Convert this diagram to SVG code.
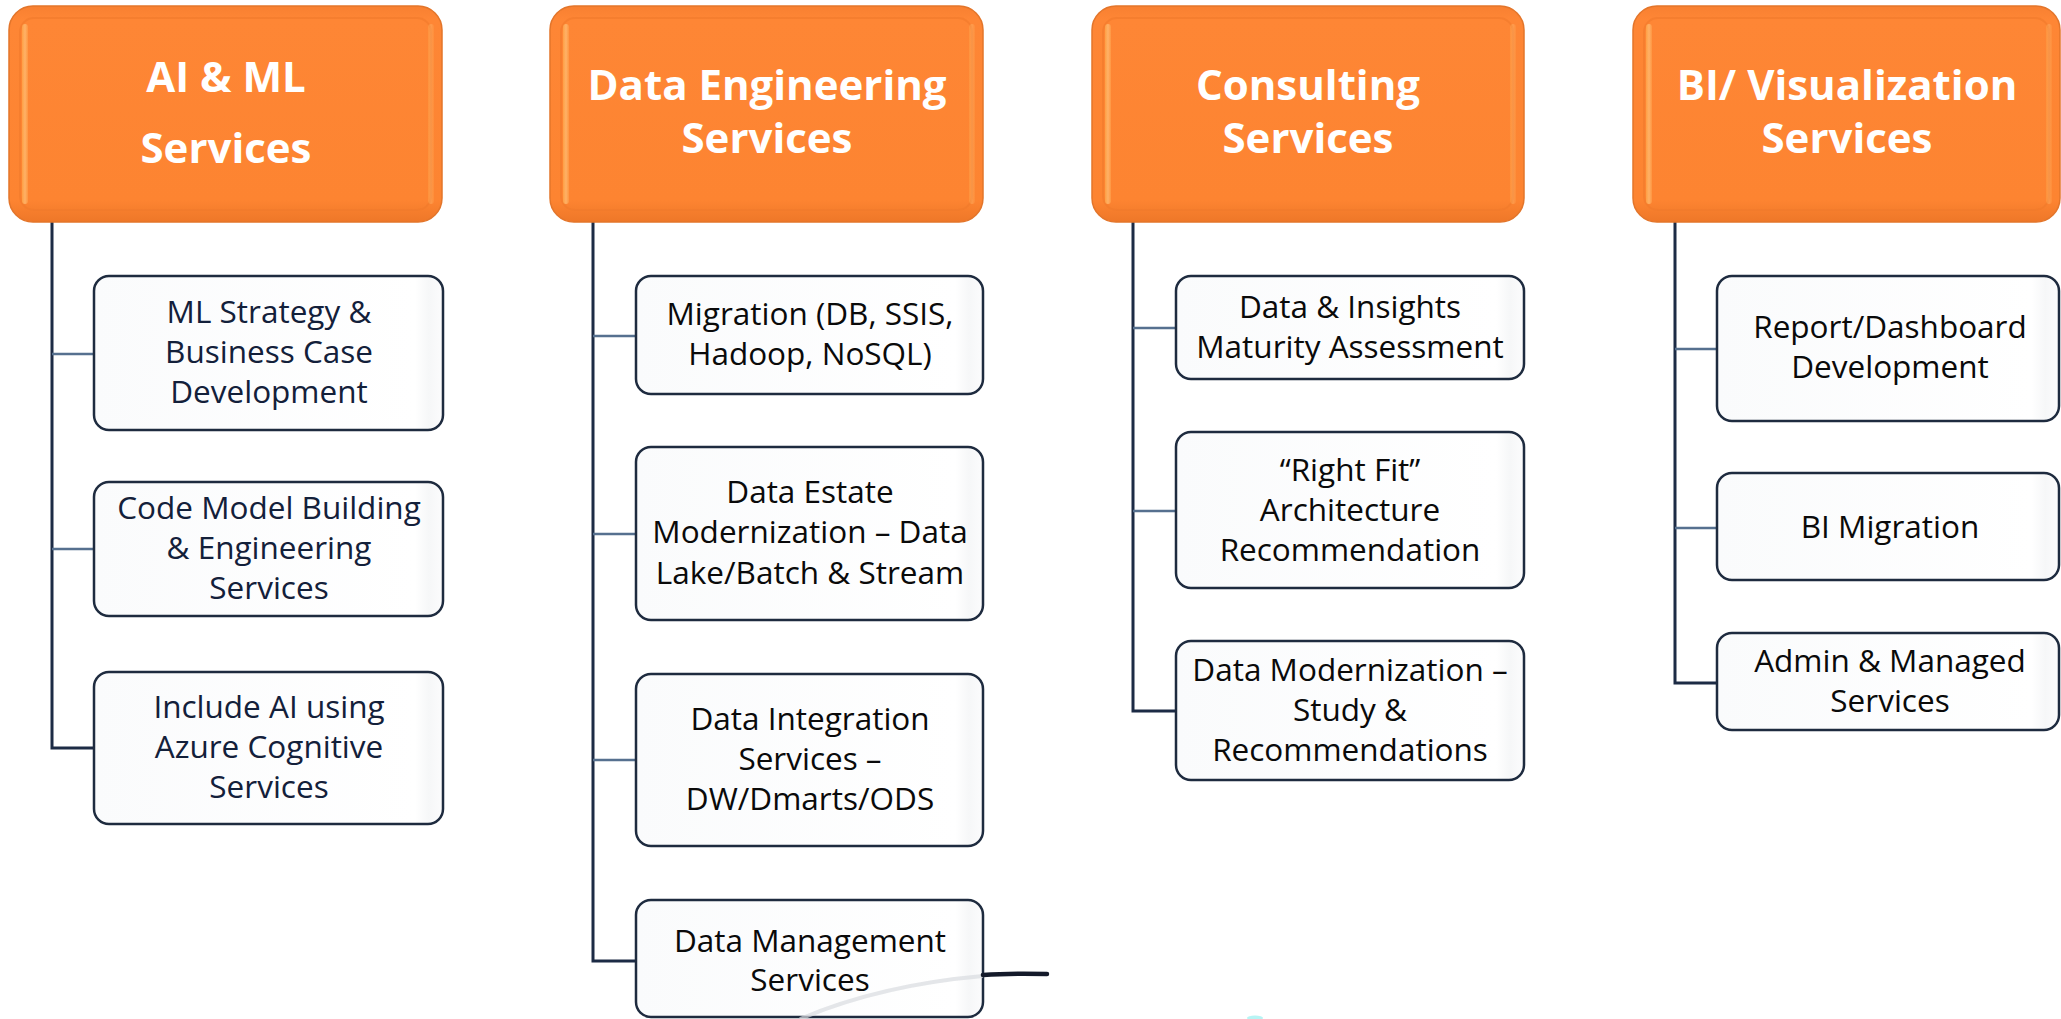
<svg xmlns="http://www.w3.org/2000/svg" width="2061" height="1019" viewBox="0 0 2061 1019">
<defs>
<linearGradient id="hdrFill" x1="0" y1="0" x2="0" y2="1">
<stop offset="0" stop-color="#F88031"/>
<stop offset="0.06" stop-color="#FE8635"/>
<stop offset="0.9" stop-color="#FD8431"/>
<stop offset="1" stop-color="#EE7728"/>
</linearGradient>
<linearGradient id="hl" x1="0" y1="0" x2="1" y2="0">
<stop offset="0" stop-color="#FFB050"/>
<stop offset="0.5" stop-color="#FFD08A"/>
<stop offset="1" stop-color="#FFA04A"/>
</linearGradient>
<linearGradient id="boxFill" x1="0" y1="0" x2="1" y2="0">
<stop offset="0" stop-color="#FAFBFC"/>
<stop offset="0.92" stop-color="#FFFFFF"/>
<stop offset="0.96" stop-color="#F6F7F8"/>
<stop offset="1" stop-color="#FCFCFD"/>
</linearGradient>
</defs>
<style>
.hdr{fill:url(#hdrFill);stroke:#E3752A;stroke-width:1.5}
.hlite{fill:url(#hl);opacity:0.6}
.hlite2{fill:url(#hl);opacity:0.3}
.inner{fill:none;stroke:#F07A2C;stroke-width:2;opacity:0.6}
.ht{font-family:"Open Sans","Liberation Sans",sans-serif;font-weight:700;font-size:42px;fill:#FFFFFF;text-anchor:middle}
.box{fill:url(#boxFill);stroke:#1E2B3F;stroke-width:2.5}
.bt{font-family:"Open Sans","Liberation Sans",sans-serif;font-size:31.5px;fill:#0A0A0A;text-anchor:middle}
.navy{fill:#13203A}
.trunk{fill:none;stroke:#1C2B45;stroke-width:3}
.branch{fill:none;stroke:#56708F;stroke-width:2.5}
</style>
<rect width="2061" height="1019" fill="#FFFFFF"/>

<g id="connectors">
<path class="trunk" d="M52 222 V748 H94"/>
<path class="branch" d="M52 354 H94 M52 549 H94"/>
<path class="trunk" d="M593 222 V961 H636"/>
<path class="branch" d="M593 336 H636 M593 534 H636 M593 760 H636"/>
<path class="trunk" d="M1133 222 V711 H1176"/>
<path class="branch" d="M1133 328 H1176 M1133 511 H1176"/>
<path class="trunk" d="M1675 222 V683 H1717"/>
<path class="branch" d="M1675 349 H1717 M1675 528 H1717"/>
</g>

<g id="h1">
<rect class="hdr" x="9" y="6" width="433" height="216" rx="24"/>
<rect class="inner" x="20" y="18" width="411" height="192" rx="14"/>
<rect class="hlite" x="22" y="24" width="6" height="180" rx="3"/>
<rect class="hlite2" x="428" y="24" width="6" height="180" rx="3"/>
<text class="ht" x="226" y="92">AI &amp; ML</text>
<text class="ht" x="226" y="163">Services</text>
</g>
<g id="h2">
<rect class="hdr" x="550" y="6" width="433" height="216" rx="24"/>
<rect class="inner" x="561" y="18" width="411" height="192" rx="14"/>
<rect class="hlite" x="563" y="24" width="6" height="180" rx="3"/>
<rect class="hlite2" x="969" y="24" width="6" height="180" rx="3"/>
<text class="ht" x="767" y="100">Data Engineering</text>
<text class="ht" x="767" y="153">Services</text>
</g>
<g id="h3">
<rect class="hdr" x="1092" y="6" width="432" height="216" rx="24"/>
<rect class="inner" x="1103" y="18" width="410" height="192" rx="14"/>
<rect class="hlite" x="1105" y="24" width="6" height="180" rx="3"/>
<rect class="hlite2" x="1510" y="24" width="6" height="180" rx="3"/>
<text class="ht" x="1308" y="100">Consulting</text>
<text class="ht" x="1308" y="153">Services</text>
</g>
<g id="h4">
<rect class="hdr" x="1633" y="6" width="427" height="216" rx="24"/>
<rect class="inner" x="1644" y="18" width="405" height="192" rx="14"/>
<rect class="hlite" x="1646" y="24" width="6" height="180" rx="3"/>
<rect class="hlite2" x="2046" y="24" width="6" height="180" rx="3"/>
<text class="ht" x="1847" y="100">BI/ Visualization</text>
<text class="ht" x="1847" y="153">Services</text>
</g>

<g id="c1a">
<rect class="box" x="94" y="276" width="349" height="154" rx="15"/>
<text class="bt navy" x="269" y="323">ML Strategy &amp;</text>
<text class="bt navy" x="269" y="363">Business Case</text>
<text class="bt navy" x="269" y="403">Development</text>
</g>
<g id="c1b">
<rect class="box" x="94" y="482" width="349" height="134" rx="15"/>
<text class="bt navy" x="269" y="519">Code Model Building</text>
<text class="bt navy" x="269" y="559">&amp; Engineering</text>
<text class="bt navy" x="269" y="599">Services</text>
</g>
<g id="c1c">
<rect class="box" x="94" y="672" width="349" height="152" rx="15"/>
<text class="bt navy" x="269" y="718">Include AI using</text>
<text class="bt navy" x="269" y="758">Azure Cognitive</text>
<text class="bt navy" x="269" y="798">Services</text>
</g>

<g id="c2a">
<rect class="box" x="636" y="276" width="347" height="118" rx="15"/>
<text class="bt" x="810" y="325">Migration (DB, SSIS,</text>
<text class="bt" x="810" y="365">Hadoop, NoSQL)</text>
</g>
<g id="c2b">
<rect class="box" x="636" y="447" width="347" height="173" rx="15"/>
<text class="bt" x="810" y="503">Data Estate</text>
<text class="bt" x="810" y="543">Modernization – Data</text>
<text class="bt" x="810" y="584">Lake/Batch &amp; Stream</text>
</g>
<g id="c2c">
<rect class="box" x="636" y="674" width="347" height="172" rx="15"/>
<text class="bt" x="810" y="730">Data Integration</text>
<text class="bt" x="810" y="770">Services –</text>
<text class="bt" x="810" y="810">DW/Dmarts/ODS</text>
</g>
<g id="c2d">
<rect class="box" x="636" y="900" width="347" height="117" rx="15"/>
<text class="bt" x="810" y="952">Data Management</text>
<text class="bt" x="810" y="991">Services</text>
</g>

<g id="c3a">
<rect class="box" x="1176" y="276" width="348" height="103" rx="15"/>
<text class="bt" x="1350" y="318">Data &amp; Insights</text>
<text class="bt" x="1350" y="358">Maturity Assessment</text>
</g>
<g id="c3b">
<rect class="box" x="1176" y="432" width="348" height="156" rx="15"/>
<text class="bt" x="1350" y="481">“Right Fit”</text>
<text class="bt" x="1350" y="521">Architecture</text>
<text class="bt" x="1350" y="561">Recommendation</text>
</g>
<g id="c3c">
<rect class="box" x="1176" y="641" width="348" height="139" rx="15"/>
<text class="bt" x="1350" y="681">Data Modernization –</text>
<text class="bt" x="1350" y="721">Study &amp;</text>
<text class="bt" x="1350" y="761">Recommendations</text>
</g>

<g id="c4a">
<rect class="box" x="1717" y="276" width="342" height="145" rx="15"/>
<text class="bt" x="1890" y="338">Report/Dashboard</text>
<text class="bt" x="1890" y="378">Development</text>
</g>
<g id="c4b">
<rect class="box" x="1717" y="473" width="342" height="107" rx="15"/>
<text class="bt" x="1890" y="538">BI Migration</text>
</g>
<g id="c4c">
<rect class="box" x="1717" y="633" width="342" height="97" rx="15"/>
<text class="bt" x="1890" y="672">Admin &amp; Managed</text>
<text class="bt" x="1890" y="712">Services</text>
</g>

<g id="marks">
<path d="M800 1019 Q880 985 983 976" fill="none" stroke="#D8DCE0" stroke-width="4" opacity="0.7"/>
<path d="M983 975 Q1010 973 1047 974" fill="none" stroke="#141A2A" stroke-width="4.5" stroke-linecap="round"/>
<ellipse cx="1255" cy="1018" rx="8" ry="2.5" fill="#5FE6E6" opacity="0.45"/>
</g>
</svg>
